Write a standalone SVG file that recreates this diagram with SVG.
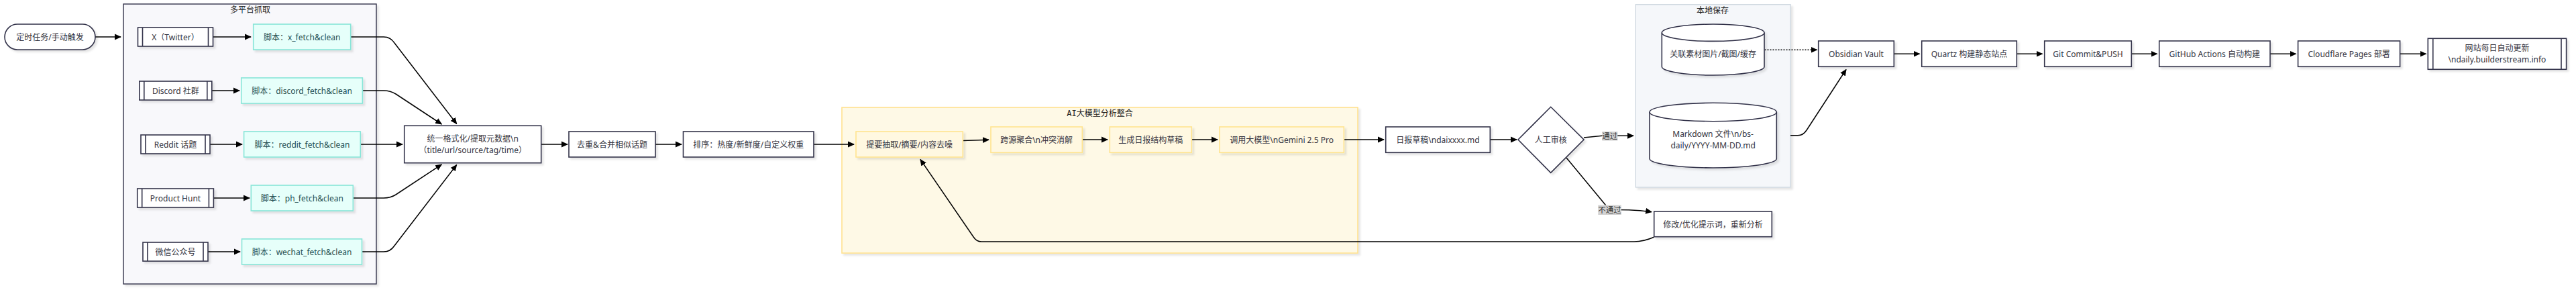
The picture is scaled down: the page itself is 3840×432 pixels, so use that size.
<svg xmlns="http://www.w3.org/2000/svg" width="3840" height="432" viewBox="0 0 3840 432">
<style>
text{font-family:"Noto Sans","Noto Sans CJK SC",sans-serif;font-size:12px;fill:#333340;text-anchor:middle;dominant-baseline:central}
.n{fill:#ffffff;stroke:#33334a;stroke-width:1.6}
.s{fill:#e6fffa;stroke:#88e5d8;stroke-width:1.6}
.st{fill:#234e52}
.y{fill:#fff8e1;stroke:#ffe490;stroke-width:1.6}
.c1{fill:#f8f8fb;stroke:#33334a;stroke-width:1.4}
.c2{fill:#fef9e6;stroke:#ffe28f;stroke-width:1.6}
.c3{fill:#f5f7fa;stroke:#cfd8e0;stroke-width:1.4}
.ct{font-family:"DejaVu Sans Mono","Noto Sans CJK SC",monospace;font-size:12px;fill:#222}
.e{fill:none;stroke:#000;stroke-width:1.5;marker-end:url(#a)}
.d{stroke-dasharray:2 2}
.lb{fill:#d2d2d2}
.lt{font-size:11.5px;fill:#333}
.sh{filter:url(#f)}
</style>
<defs>
<marker id="a" viewBox="0 0 10 10" refX="9" refY="5" markerWidth="10" markerHeight="10" markerUnits="userSpaceOnUse" orient="auto"><path d="M0,0.5 L10,5 L0,9.5 z" fill="#000"/></marker>
<filter id="f" x="-10%" y="-20%" width="130%" height="150%"><feDropShadow dx="3" dy="3" stdDeviation="1.5" flood-color="#000" flood-opacity="0.1"/></filter>
</defs>
<rect width="3840" height="432" fill="#ffffff"/>

<g id="cluster-fetch">
<rect class="c1 sh" x="184" y="6" width="377" height="417"/>
<text class="ct" x="373" y="15">多平台抓取</text>
</g>
<g id="cluster-ai">
<rect class="c2 sh" x="1255" y="160" width="769" height="217"/>
<text class="ct" x="1639.5" y="169">AI大模型分析整合</text>
</g>
<g id="cluster-local">
<rect class="c3 sh" x="2438.3" y="6.7" width="230.7" height="272.3"/>
<text class="ct" x="2553" y="15.7">本地保存</text>
</g>

<g id="connectors">
<path class="e" d="M142,55 L180,55"/>
<path class="e" d="M318,55 L374,55"/>
<path class="e" d="M316,135 L357,135"/>
<path class="e" d="M313,215 L361,215"/>
<path class="e" d="M318.5,295 L372,295"/>
<path class="e" d="M310,375 L358,375"/>
<path class="e" d="M523,55 L572,55 Q582,55 588,64 L680.7,184.5"/>
<path class="e" d="M540.5,135 L572,135 Q582,135 590,140 L658.3,185"/>
<path class="e" d="M537.5,215 L600,215"/>
<path class="e" d="M526.5,295 L572,295 Q582,295 590,290 L658.3,245"/>
<path class="e" d="M540,375 L572,375 Q582,375 588,366 L680.7,245.5"/>
<path class="e" d="M806.7,215 L846,215"/>
<path class="e" d="M977,215 L1016,215"/>
<path class="e" d="M1213,215 L1273,215"/>
<path class="e" d="M1435.5,209.5 L1474,208.3"/>
<path class="e" d="M1613.5,208 L1651,208"/>
<path class="e" d="M1776.5,208 L1815,208"/>
<path class="e" d="M2003.5,208 L2063,208"/>
<path class="e" d="M2221.5,208 L2261,208"/>
<path class="e" d="M2361,205 L2388.3,202.3 L2435,202.3"/>
<path class="e" d="M2335,235 L2393,305 Q2397,312.5 2408,312.5 L2428,312.7 Q2445,313 2462,315.7"/>
<path class="e" d="M2465.5,353.3 Q2450,360 2436,360 L1463,360 Q1456,360 1451.5,353.5 L1372,237.5"/>
<path class="e d" d="M2630.5,74.3 L2708.5,74.3"/>
<path class="e" d="M2669,201.7 L2680,201.7 Q2688,201.7 2693,194 L2752,103.5"/>
<path class="e" d="M2823.3,80.3 L2861.5,80.3"/>
<path class="e" d="M3006.3,80.3 L3044.5,80.3"/>
<path class="e" d="M3177.3,80.3 L3215.5,80.3"/>
<path class="e" d="M3384,80.3 L3422.5,80.3"/>
<path class="e" d="M3577.7,80.3 L3616.5,80.3"/>
<rect class="lb" x="2388.3" y="196" width="23" height="13.5"/>
<text class="lt" x="2399.8" y="202.8">通过</text>
<rect class="lb" x="2382.3" y="305.5" width="34.4" height="14.5"/>
<text class="lt" x="2399.5" y="312.8">不通过</text>
</g>

<g id="start">
<rect class="n sh" x="7" y="36" width="135" height="38" rx="19"/>
<text x="74.5" y="55">定时任务/手动触发</text>
</g>

<g id="src-x">
<rect class="n sh" x="205.5" y="41" width="112" height="28"/>
<path d="M212.5,41 V69 M310.5,41 V69" stroke="#33334a" stroke-width="1.6"/>
<text x="261.5" y="55">X（Twitter）</text>
</g>
<g id="script-x">
<rect class="s sh" x="377.7" y="36" width="145" height="38"/>
<text class="st" x="450.2" y="55">脚本：x_fetch&amp;clean</text>
</g>

<g id="src-discord">
<rect class="n sh" x="207.8" y="121" width="108" height="28"/>
<path d="M214.8,121 V149 M308.8,121 V149" stroke="#33334a" stroke-width="1.6"/>
<text x="261.8" y="135">Discord 社群</text>
</g>
<g id="script-discord">
<rect class="s sh" x="359.7" y="116" width="180.7" height="38"/>
<text class="st" x="450" y="135">脚本：discord_fetch&amp;clean</text>
</g>

<g id="src-reddit">
<rect class="n sh" x="210" y="201" width="103" height="28"/>
<path d="M217,201 V229 M306,201 V229" stroke="#33334a" stroke-width="1.6"/>
<text x="261.5" y="215">Reddit 话题</text>
</g>
<g id="script-reddit">
<rect class="s sh" x="363.6" y="196" width="173.7" height="38"/>
<text class="st" x="450.5" y="215">脚本：reddit_fetch&amp;clean</text>
</g>

<g id="src-ph">
<rect class="n sh" x="204.7" y="281" width="113.7" height="28"/>
<path d="M211.7,281 V309 M311.4,281 V309" stroke="#33334a" stroke-width="1.6"/>
<text x="261.5" y="295">Product Hunt</text>
</g>
<g id="script-ph">
<rect class="s sh" x="374.3" y="276" width="152" height="38"/>
<text class="st" x="450.3" y="295">脚本：ph_fetch&amp;clean</text>
</g>

<g id="src-wechat">
<rect class="n sh" x="213" y="361" width="97" height="28"/>
<path d="M220,361 V389 M303,361 V389" stroke="#33334a" stroke-width="1.6"/>
<text x="261.5" y="375">微信公众号</text>
</g>
<g id="script-wechat">
<rect class="s sh" x="360.5" y="356" width="179" height="38"/>
<text class="st" x="450" y="375">脚本：wechat_fetch&amp;clean</text>
</g>

<g id="unify">
<rect class="n sh" x="602.7" y="187.3" width="204" height="55.4"/>
<text x="704.7" y="206">统一格式化/提取元数据\n</text>
<text x="704.7" y="223.5">（title/url/source/tag/time）</text>
</g>
<g id="dedup">
<rect class="n sh" x="848" y="196" width="129" height="38"/>
<text x="912.5" y="215">去重&amp;合并相似话题</text>
</g>
<g id="sort">
<rect class="n sh" x="1018.5" y="196" width="194.5" height="38"/>
<text x="1115.7" y="215">排序：热度/新鲜度/自定义权重</text>
</g>

<g id="extract">
<rect class="y sh" x="1276" y="196" width="159.3" height="38"/>
<text x="1355.6" y="215">提要抽取/摘要/内容去噪</text>
</g>
<g id="merge">
<rect class="y sh" x="1477" y="189" width="136.3" height="38.3"/>
<text x="1545.1" y="208">跨源聚合\n冲突消解</text>
</g>
<g id="gen">
<rect class="y sh" x="1654.3" y="189" width="122" height="38.3"/>
<text x="1715.3" y="208">生成日报结构草稿</text>
</g>
<g id="llm">
<rect class="y sh" x="1818" y="189" width="185.3" height="38.3"/>
<text x="1910.6" y="208">调用大模型\nGemini 2.5 Pro</text>
</g>

<g id="draft">
<rect class="n sh" x="2065.7" y="189" width="155.6" height="38.3"/>
<text x="2143.5" y="208">日报草稿\ndaixxxx.md</text>
</g>
<g id="review">
<polygon class="n sh" points="2263,208 2311.7,159.3 2361,208 2311.7,257.3"/>
<text x="2311.7" y="208">人工审核</text>
</g>

<g id="assets">
<path class="n sh" d="M2477.3,48.7 A76.35,12.7 0 0 1 2630,48.7 L2630,99.3 A76.35,12.7 0 0 1 2477.3,99.3 Z"/>
<path d="M2477.3,48.7 A76.35,12.7 0 0 0 2630,48.7" fill="none" stroke="#33334a" stroke-width="1.6"/>
<text x="2553.6" y="80">关联素材图片/截图/缓存</text>
</g>
<g id="markdown">
<path class="n sh" d="M2459,167 A94.65,13.7 0 0 1 2648.3,167 L2648.3,236.3 A94.65,13.7 0 0 1 2459,236.3 Z"/>
<path d="M2459,167 A94.65,13.7 0 0 0 2648.3,167" fill="none" stroke="#33334a" stroke-width="1.6"/>
<text x="2553.6" y="199">Markdown 文件\n/bs-</text>
<text x="2553.6" y="216.7">daily/YYYY-MM-DD.md</text>
</g>

<g id="revise">
<rect class="n sh" x="2465.7" y="315" width="175.6" height="37.7"/>
<text x="2553.5" y="334">修改/优化提示词，重新分析</text>
</g>

<g id="obsidian">
<rect class="n sh" x="2710.7" y="61" width="112.6" height="38.3"/>
<text x="2767" y="80">Obsidian Vault</text>
</g>
<g id="quartz">
<rect class="n sh" x="2864.7" y="61" width="141.6" height="38.3"/>
<text x="2935.5" y="80">Quartz 构建静态站点</text>
</g>
<g id="git">
<rect class="n sh" x="3047.7" y="61" width="129.6" height="38.3"/>
<text x="3112.5" y="80">Git Commit&amp;PUSH</text>
</g>
<g id="actions">
<rect class="n sh" x="3218.7" y="61" width="165.3" height="38.3"/>
<text x="3301.3" y="80">GitHub Actions 自动构建</text>
</g>
<g id="cloudflare">
<rect class="n sh" x="3425.6" y="61" width="152" height="38.3"/>
<text x="3501.6" y="80">Cloudflare Pages 部署</text>
</g>
<g id="website">
<rect class="n sh" x="3619.3" y="57.3" width="206.3" height="46"/>
<path d="M3626.8,57.3 V103.3 M3818,57.3 V103.3" stroke="#33334a" stroke-width="1.6"/>
<text x="3722.4" y="71.7">网站每日自动更新</text>
<text x="3722.4" y="88.3">\ndaily.builderstream.info</text>
</g>
</svg>
